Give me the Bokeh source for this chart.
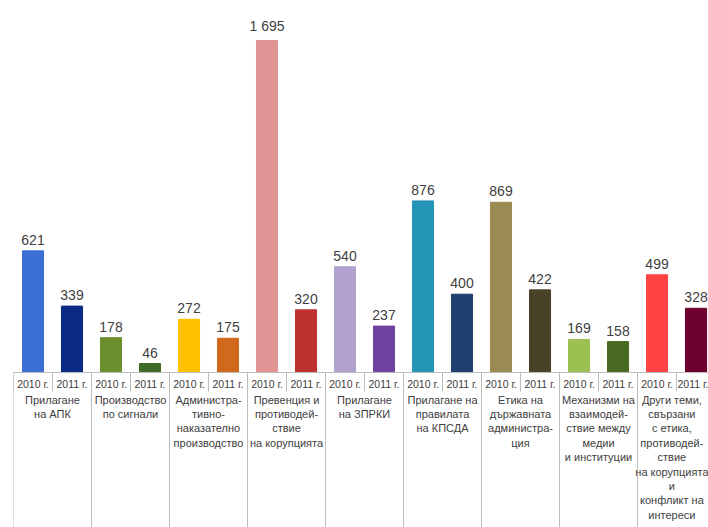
from bokeh.plotting import figure
from bokeh.models import Range1d, LinearAxis, FixedTicker, ColumnDataSource
from bokeh.core.properties import value
from bokeh.embed import file_html
from bokeh.resources import INLINE

# ---- data ----
groups = [
    "Прилагане\nна АПК",
    "Производство\nпо сигнали",
    "Администра-\nтивно-\nнаказателно\nпроизводство",
    "Превенция и\nпротиводей-\nствие\nна корупцията",
    "Прилагане\nна ЗПРКИ",
    "Прилагане на\nправилата\nна КПСДА",
    "Етика на\nдържавната\nадминистра-\nция",
    "Механизми на\nвзаимодей-\nствие между\nмедии\nи институции",
    "Други теми,\nсвързани\nс етика,\nпротиводей-\nствие\nна корупцията\nи\nконфликт на\nинтереси",
]
years = ["2010 г.", "2011 г."]
values_2010 = [621, 178, 272, 1695, 540, 876, 869, 169, 499]
values_2011 = [339, 46, 175, 320, 237, 400, 422, 158, 328]
colors_2010 = ["#3c6fd6", "#6b8f2c", "#ffc000", "#e09494", "#b1a1cf",
               "#2394b6", "#9a8b52", "#9dc052", "#ff4343"]
colors_2011 = ["#0b2a86", "#3f6a28", "#d0691c", "#bf3030", "#7042a0",
               "#1f3f6e", "#4a4129", "#4b6a21", "#6e0030"]

# ---- build flat bar table ----
n_groups = len(groups)
xs, vals, cols, labels, year_labels = [], [], [], [], []
for g in range(n_groups):
    for k, (v, c) in enumerate([(values_2010[g], colors_2010[g]),
                                (values_2011[g], colors_2011[g])]):
        xs.append(2 * g + k)
        vals.append(v)
        cols.append(c)
        labels.append(f"{v:,}".replace(",", " "))
        year_labels.append(years[k])

src = ColumnDataSource(dict(x=xs, top=vals, color=cols, label=labels))

FONT = "Liberation Sans"
TXT = "#404040"
LINE = "#bdbdbd"

# frame spans the whole figure height; the category axes are pinned at y=0
p = figure(width=708, height=527, output_backend="svg", toolbar_location=None,
           x_axis_type=None, y_axis_type=None,
           x_range=Range1d(-0.5, 17.32), y_range=Range1d(-791, 1899),
           min_border_left=13, min_border_right=0, min_border_top=0,
           min_border_bottom=0)
p.outline_line_color = None
p.xgrid.visible = False
p.ygrid.visible = False

p.vbar(x="x", top="top", bottom=0, width=0.54, color="color", source=src)
p.text(x="x", y="top", text="label", source=src, text_align="center",
       text_baseline="bottom", y_offset=-6, text_font=value(FONT),
       text_font_size="14px", text_color=TXT)

# year axis (minor ticks = short separators)
SEP1 = 19
bounds_all = [i - 0.5 for i in range(len(xs) + 1)]
ax1 = LinearAxis(ticker=FixedTicker(ticks=xs, minor_ticks=bounds_all),
                 major_label_overrides={x: y for x, y in zip(xs, year_labels)},
                 fixed_location=0)
ax1.major_tick_out = 0
ax1.major_tick_in = 0
ax1.minor_tick_out = SEP1
ax1.minor_tick_in = 0
ax1.axis_line_color = LINE
ax1.minor_tick_line_color = LINE
ax1.major_label_standoff = 5 - SEP1
ax1.major_label_text_font = FONT
ax1.major_label_text_font_size = "10.5px"
ax1.major_label_text_color = TXT
p.add_layout(ax1, "below")

# group axis (minor ticks = long separators between groups)
SEP2 = 170
centers = [2 * g + 0.5 for g in range(n_groups)]
group_bounds = [2 * g - 0.5 for g in range(n_groups + 1)]
ax2 = LinearAxis(ticker=FixedTicker(ticks=centers, minor_ticks=group_bounds),
                 major_label_overrides={c: t for c, t in zip(centers, groups)},
                 fixed_location=0)
ax2.major_tick_out = 0
ax2.major_tick_in = 0
ax2.minor_tick_out = SEP2
ax2.minor_tick_in = 0
ax2.axis_line_color = None
ax2.minor_tick_line_color = LINE
ax2.major_label_standoff = 21 - SEP2
ax2.major_label_text_font = FONT
ax2.major_label_text_font_size = "11px"
ax2.major_label_text_line_height = 1.2
ax2.major_label_text_color = TXT
p.add_layout(ax2, "below")

open("out.html", "w").write(file_html(p, INLINE))
